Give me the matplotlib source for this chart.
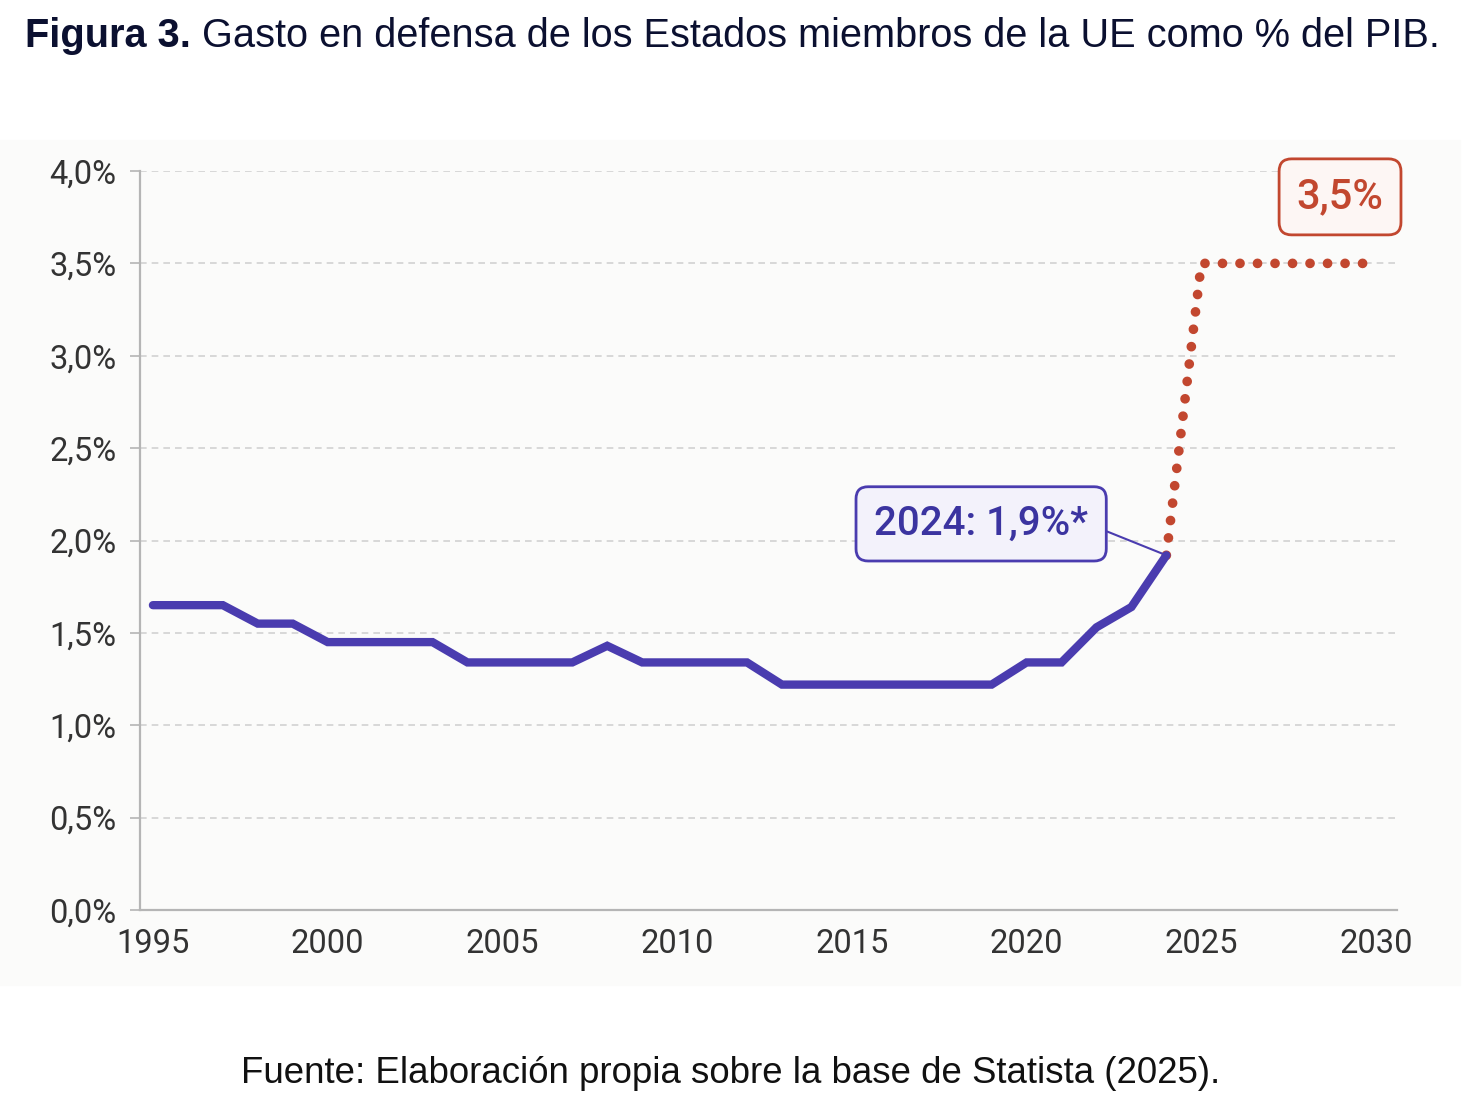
import matplotlib
matplotlib.use('Agg')
import matplotlib.pyplot as plt
from matplotlib.patches import Rectangle

# datos (% del PIB)
years = list(range(1995, 2025))
gasto = [1.65, 1.65, 1.65, 1.55, 1.55, 1.45, 1.45, 1.45, 1.45, 1.34,
         1.34, 1.34, 1.34, 1.43, 1.34, 1.34, 1.34, 1.34, 1.22, 1.22,
         1.22, 1.22, 1.22, 1.22, 1.22, 1.34, 1.34, 1.53, 1.64, 1.92]
proj_years = [2024, 2025, 2030]
proj_vals = [1.92, 3.5, 3.5]
yticks = [0, 0.5, 1.0, 1.5, 2.0, 2.5, 3.0, 3.5, 4.0]
xticks = [1995, 2000, 2005, 2010, 2015, 2020, 2025, 2030]

blue = '#4a3caf'
red = '#c2472f'

fig = plt.figure(figsize=(14.76, 11.08), dpi=100)
fig.patch.set_facecolor('white')
# fondo casi blanco del gráfico
fig.add_artist(Rectangle((0, 1 - 985 / 1108), 1460 / 1476, 845 / 1108,
                         transform=fig.transFigure, color='#fbfbfa', zorder=0))

ax = fig.add_axes([140 / 1476, 1 - 910 / 1108, 1257 / 1476, 739 / 1108])
ax.set_facecolor('none')

ax.plot(years, gasto, color=blue, lw=6, solid_capstyle='round',
        solid_joinstyle='miter', zorder=4)
ax.plot(proj_years, proj_vals, color=red, lw=7, linestyle=(0, (0.001, 1.8)),
        dash_capstyle='round', zorder=3)

ax.set_xlim(1994.63, 2030.6)
ax.set_ylim(0, 4.0)
ax.set_yticks(yticks)
ax.set_yticklabels([f'{v:.1f}%'.replace('.', ',') for v in yticks])
ax.set_xticks(xticks)
ax.set_xticklabels([str(x) for x in xticks])

for sp in ['top', 'right']:
    ax.spines[sp].set_visible(False)
for sp in ['left', 'bottom']:
    ax.spines[sp].set_color('#b5b5b5')
    ax.spines[sp].set_linewidth(1.6)

ax.grid(axis='y', color='#d2d2d2', linestyle=(0, (4, 3)), lw=1.2)
ax.set_axisbelow(True)
ax.tick_params(axis='y', length=7, width=1.2, color='#b5b5b5', pad=10,
               labelsize=23.5, labelcolor='#333333')
ax.tick_params(axis='x', length=0, pad=13, labelsize=23.5, labelcolor='#333333')
for lab in ax.get_xticklabels() + ax.get_yticklabels():
    lab.set_fontfamily('Roboto')

# anotaciones
ax.annotate('2024: 1,9%*', xy=(2024, 1.92), xytext=(2018.7, 2.09),
            ha='center', va='center', fontsize=29, fontweight='medium',
            family='Roboto', color='#3b34a0', zorder=6, annotation_clip=False,
            bbox=dict(boxstyle='round,pad=0.45,rounding_size=0.3',
                      fc='#f3f2fb', ec=blue, lw=2),
            arrowprops=dict(arrowstyle='-', color=blue, lw=1.5,
                            relpos=(1, 0.5), shrinkA=0, shrinkB=2))
ax.text(2028.97, 3.86, '3,5%', ha='center', va='center', fontsize=30,
        family='Roboto', fontweight='medium', color=red, clip_on=False,
        bbox=dict(boxstyle='round,pad=0.42,rounding_size=0.3',
                  fc='#fdf6f4', ec=red, lw=2))

# título
t1 = fig.text(25 / 1476, 1 - 47 / 1108, 'Figura 3.', fontsize=28.6,
              fontweight='bold', family='Liberation Sans', color='#0b1030',
              va='baseline')
ax.annotate(' Gasto en defensa de los Estados miembros de la UE como % del PIB.',
            xy=(1, 0), xycoords=t1, va='bottom', ha='left', fontsize=28.6,
            family='Liberation Sans', color='#0b1030', annotation_clip=False)

fig.text(731 / 1476, 1 - 1083 / 1108,
         'Fuente: Elaboración propia sobre la base de Statista (2025).',
         ha='center', va='baseline', fontsize=26.4, family='Liberation Sans',
         color='#111111')

fig.savefig('out.png', dpi=100)
